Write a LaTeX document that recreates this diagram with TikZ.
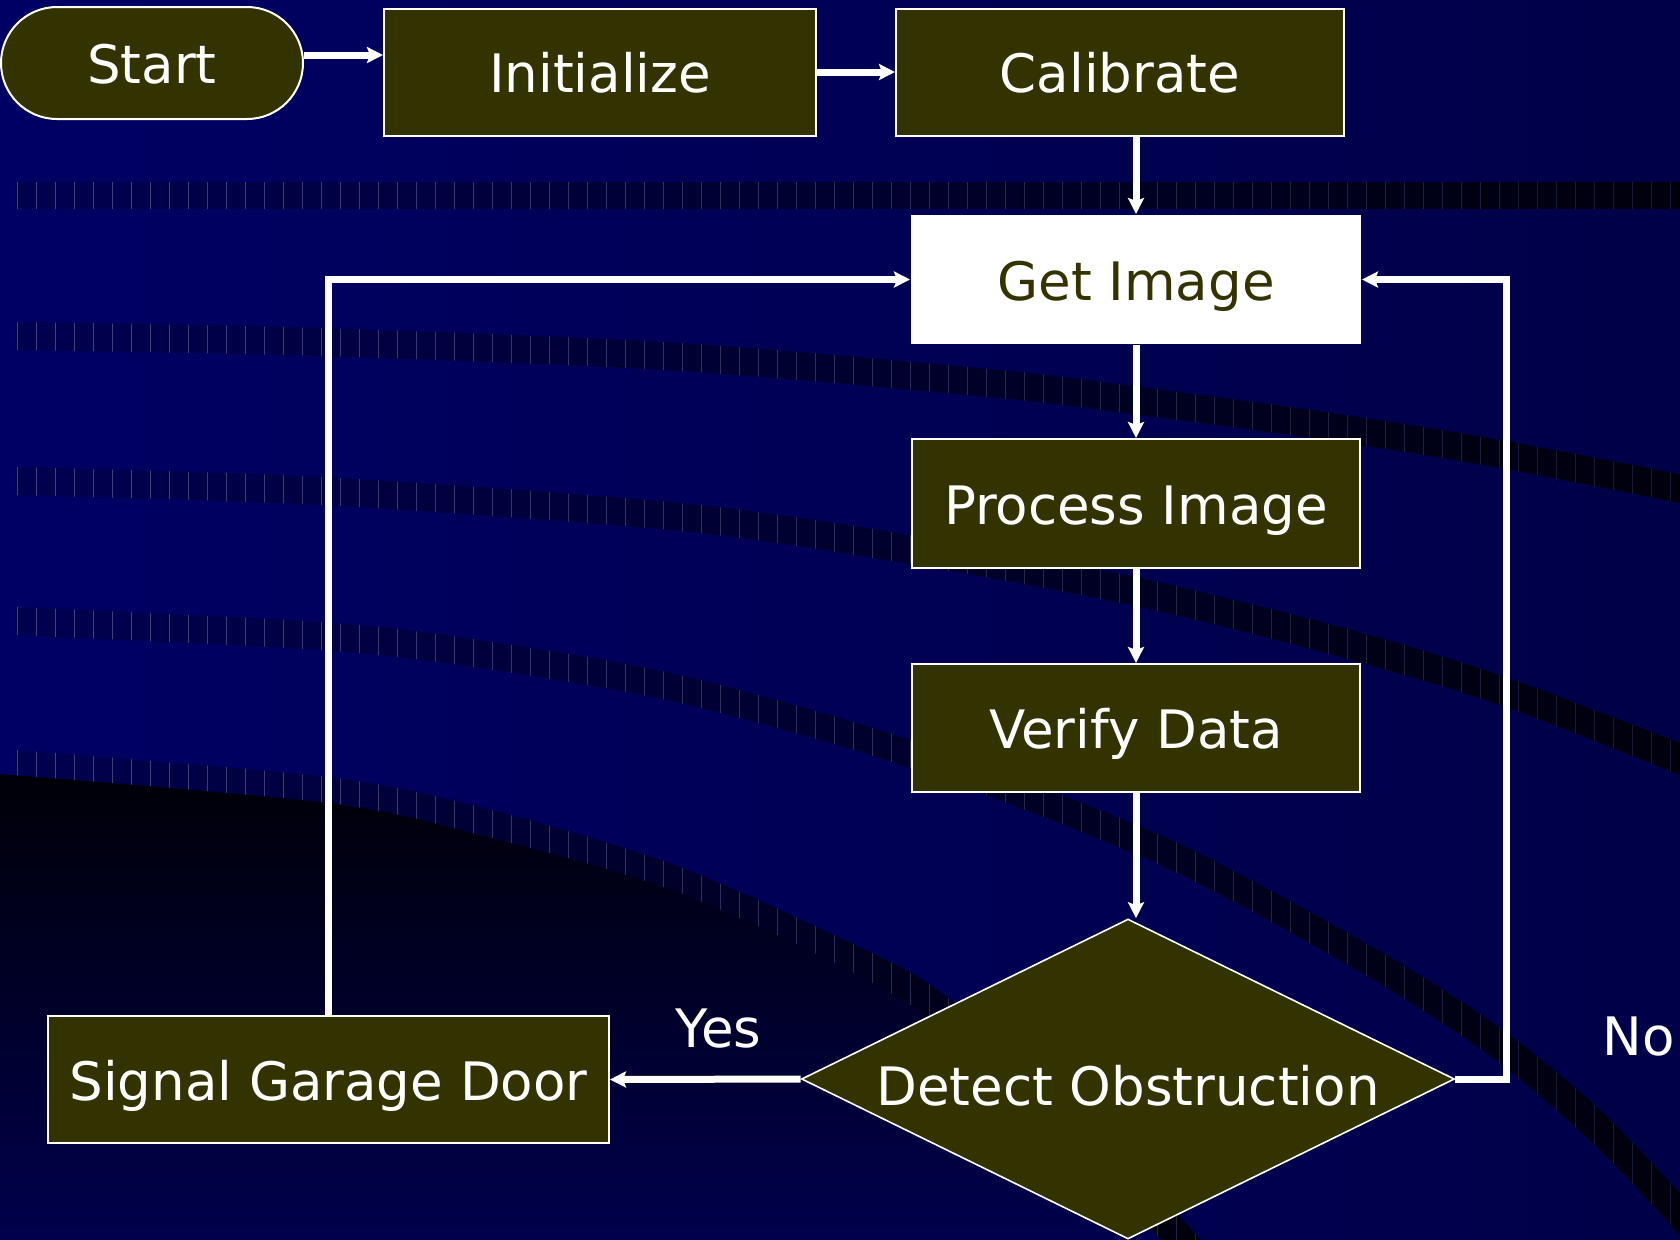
\documentclass[tikz,border=0pt]{standalone}
\usepackage{fontspec}
\setmainfont{DejaVu Sans}
\usetikzlibrary{shapes.geometric,arrows.meta}

\definecolor{navyL}{HTML}{000064}
\definecolor{navyR}{HTML}{000048}
\definecolor{bandL}{HTML}{000050}
\definecolor{bandR}{HTML}{00000C}
\definecolor{tickc}{HTML}{7878B0}
\definecolor{olive}{HTML}{333300}

% curved dark bands of the backdrop (1 unit = 1 px, y pointing down)
\newcommand\bandApath{(15,182) rectangle (1700,208)}
\newcommand\bandBpath{plot[smooth] coordinates {(15,322) (321,328) (680,343) (1000,370) (1140,387) (1333,413) (1500,440) (1700,478)}
  -- plot[smooth] coordinates {(1700,507) (1500,468) (1333,441) (1140,415) (1000,398) (680,371) (321,356) (15,350)} -- cycle}
\newcommand\bandCpath{plot[smooth] coordinates {(15,467) (321,477) (680,503) (910,535) (1140,578) (1333,625) (1500,675) (1700,751)}
  -- plot[smooth] coordinates {(1700,783) (1500,705) (1333,655) (1140,607) (910,564) (680,531) (321,505) (15,495)} -- cycle}
\newcommand\bandDpath{plot[smooth] coordinates {(15,607) (321,622) (480,640) (680,675) (910,740) (1160,835) (1360,940) (1493,1023) (1600,1110) (1700,1215)}
  -- plot[smooth] coordinates {(1700,1258) (1600,1150) (1493,1058) (1360,972) (1160,865) (910,768) (680,703) (480,668) (321,650) (15,635)} -- cycle}
\newcommand\bandEpath{plot[smooth] coordinates {(15,750) (328,777) (480,807) (680,867) (880,957) (947,997) (1060,1090) (1200,1239) (1215,1260)}
  -- (15,1260) -- cycle}
\newcommand\darkpath{plot[smooth] coordinates {(0,774) (328,803) (480,835) (680,893) (880,987) (1020,1085) (1160,1239) (1172,1260)}
  -- (0,1260) -- cycle}
\newcommand\bandticks{\foreach \tx in {17,36,...,1700}{\pgfmathsetmacro\tkop{0.55-0.35*\tx/1700}\draw[tickc, line width=0.5pt, draw opacity=\tkop] (\tx,100) -- (\tx,1270);}}

\begin{document}
\begin{tikzpicture}[x=0.5pt, y=-0.5pt,
  txt/.style={font=\fontsize{26.5}{32}\selectfont},
  box/.style={txt, draw=white, line width=1pt, fill=olive, text=white,
    inner sep=0pt, text height=20.7pt, text depth=0pt},
  lightbox/.style={box, draw=none, fill=white, text=olive},
  terminal/.style={box, rounded corners=28pt},
  decision/.style={box, shape=diamond, shape aspect=2.04, line width=0.8pt, text height=26.5pt},
  flow/.style={draw=white, line width=3.5pt, -{Stealth[length=8pt, width=8pt, inset=1.5pt]}},
  lbl/.style={txt, text=white, inner sep=0pt}]

\useasboundingbox (0,0) rectangle (1680,1239);
\clip (0,0) rectangle (1680,1239);

% backdrop
\shade[left color=navyL, right color=navyR] (0,0) rectangle (1680,1239);
\foreach \bp in {\bandApath,\bandBpath,\bandCpath,\bandDpath,\bandEpath}{
  \shade[left color=bandL, right color=bandR] \bp;
  \begin{scope}
    \clip \bp;
    \bandticks
  \end{scope}
}
\shade[top color=black!97!blue, middle color=black!92!blue, bottom color=navyL!80!black] \darkpath;

% flowchart steps
\node[terminal, minimum width=151pt, minimum height=56pt] (start) at (152,63) {Start};
\node[box, minimum width=216pt, minimum height=63.5pt] (init) at (600,72) {Initialize};
\node[box, minimum width=224pt, minimum height=63.5pt] (calib) at (1120,72) {Calibrate};
\node[lightbox, minimum width=225pt, minimum height=64.5pt] (get) at (1136,279.5) {Get Image};
\node[box, minimum width=224pt, minimum height=64.5pt] (proc) at (1136,503.5) {Process Image};
\node[box, minimum width=224pt, minimum height=64pt] (verify) at (1136,728) {Verify Data};
\node[decision, minimum width=326.5pt, minimum height=160pt] (diam) at (1128,1079) {Detect Obstruction};
\node[box, minimum width=280.5pt, minimum height=63.5pt] (signal) at (328.5,1079.5) {Signal Garage Door};

% branch labels
\node[lbl, anchor=base] (yes) at (718.5,1047) {Yes};
\node[lbl, anchor=base west] (no) at (1602,1055) {No};

% connectors
\coordinate (noturn) at (1506,279.5);
\draw[flow] ([yshift=4pt]start.east) -- ([yshift=4pt]start.east -| init.west);
\draw[flow] (init.east) -- (calib.west);
\draw[flow] (calib.south -| get.north) -- (get.north);
\draw[flow] (get.south) -- (proc.north);
\draw[flow] (proc.south) -- (verify.north);
\draw[flow] (verify.south) -- (verify.south |- diam.north);
\draw[flow] (diam.west) -- (signal.east);
\draw[flow] (diam.east) -| (noturn) -- (get.east);
\draw[flow] (signal.north) |- (get.west);
\end{tikzpicture}
\end{document}
